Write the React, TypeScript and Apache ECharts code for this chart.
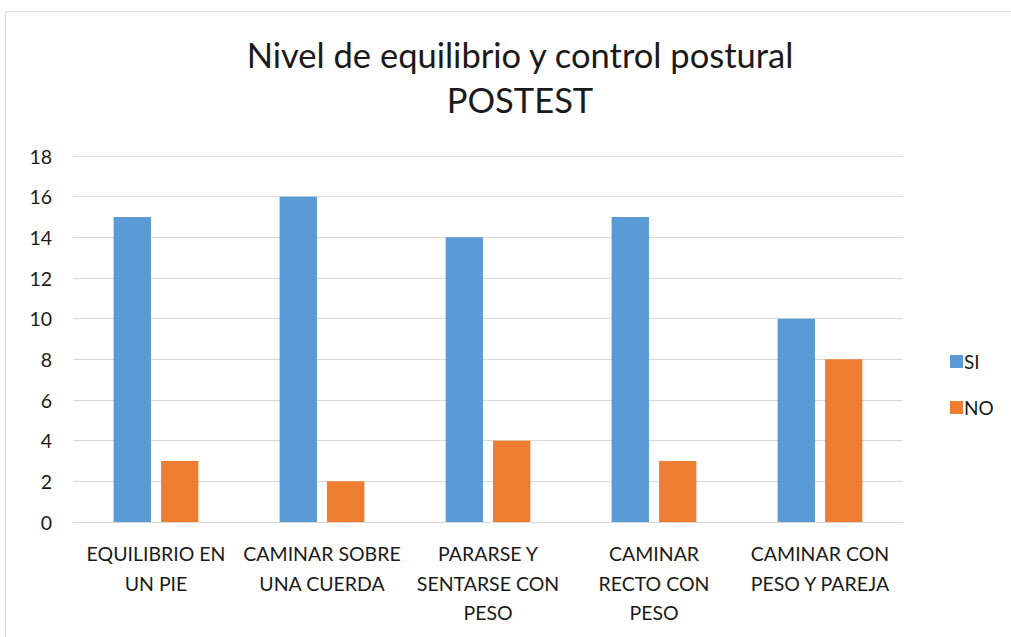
import React, { useEffect, useRef } from "react";
import * as echarts from "echarts";

const categories = [
  "EQUILIBRIO EN\nUN PIE",
  "CAMINAR SOBRE\nUNA CUERDA",
  "PARARSE Y\nSENTARSE CON\nPESO",
  "CAMINAR\nRECTO CON\nPESO",
  "CAMINAR CON\nPESO Y PAREJA",
];
const siValues = [15, 16, 14, 15, 10];
const noValues = [3, 2, 4, 3, 8];
const titleText = "Nivel de equilibrio y control postural\nPOSTEST";

export default function App() {
  const ref = useRef<HTMLDivElement>(null);
  useEffect(() => {
    document.body.style.margin = "0";
    const chart = echarts.init(ref.current!, null, { renderer: "svg" });
    const font = "Lato, 'Open Sans', sans-serif";
    chart.setOption({
      animation: false,
      backgroundColor: "#ffffff",
      textStyle: { fontFamily: font },
      graphic: [
        {
          type: "rect",
          shape: { x: 5.5, y: 11.5, width: 1100, height: 700 },
          style: { fill: "none", stroke: "#d9d9d9", lineWidth: 1 },
          silent: true,
        },
      ],
      title: {
        text: titleText,
        left: 515,
        textAlign: "center",
        top: 27,
        textStyle: {
          fontFamily: font,
          fontSize: 34.5,
          fontWeight: "normal",
          color: "#1a1a1a",
          lineHeight: 45,
        },
      },
      legend: {
        orient: "vertical",
        left: 945,
        top: 347,
        itemWidth: 13,
        itemHeight: 13,
        itemGap: 27,
        icon: "rect",
        textStyle: { fontFamily: font, fontSize: 19, color: "#1a1a1a", padding: [0, 0, 0, -4] },
        data: ["SI", "NO"],
      },
      grid: { left: 73, top: 156, width: 830, height: 366, containLabel: false },
      xAxis: {
        type: "category",
        data: categories,
        axisLine: { show: true, lineStyle: { color: "#d9d9d9", width: 1 } },
        axisTick: { show: false },
        axisLabel: {
          interval: 0,
          fontFamily: font,
          fontSize: 19.5,
          color: "#1a1a1a",
          lineHeight: 29.5,
          margin: 17,
        },
      },
      yAxis: {
        type: "value",
        min: 0,
        max: 18,
        interval: 2,
        axisLine: { show: false },
        axisTick: { show: false },
        splitLine: { lineStyle: { color: "#d9d9d9", width: 1 } },
        axisLabel: { fontFamily: font, fontSize: 19.5, color: "#1a1a1a", margin: 21 },
      },
      series: [
        {
          name: "SI",
          type: "bar",
          data: siValues,
          barWidth: "22.5%",
          barGap: "27%",
          itemStyle: { color: "#5b9bd5" },
        },
        {
          name: "NO",
          type: "bar",
          data: noValues,
          barWidth: "22.5%",
          barGap: "27%",
          itemStyle: { color: "#ed7d31" },
        },
      ],
    });
    return () => chart.dispose();
  }, []);
  return <div ref={ref} style={{ width: 1011, height: 637 }} />;
}
